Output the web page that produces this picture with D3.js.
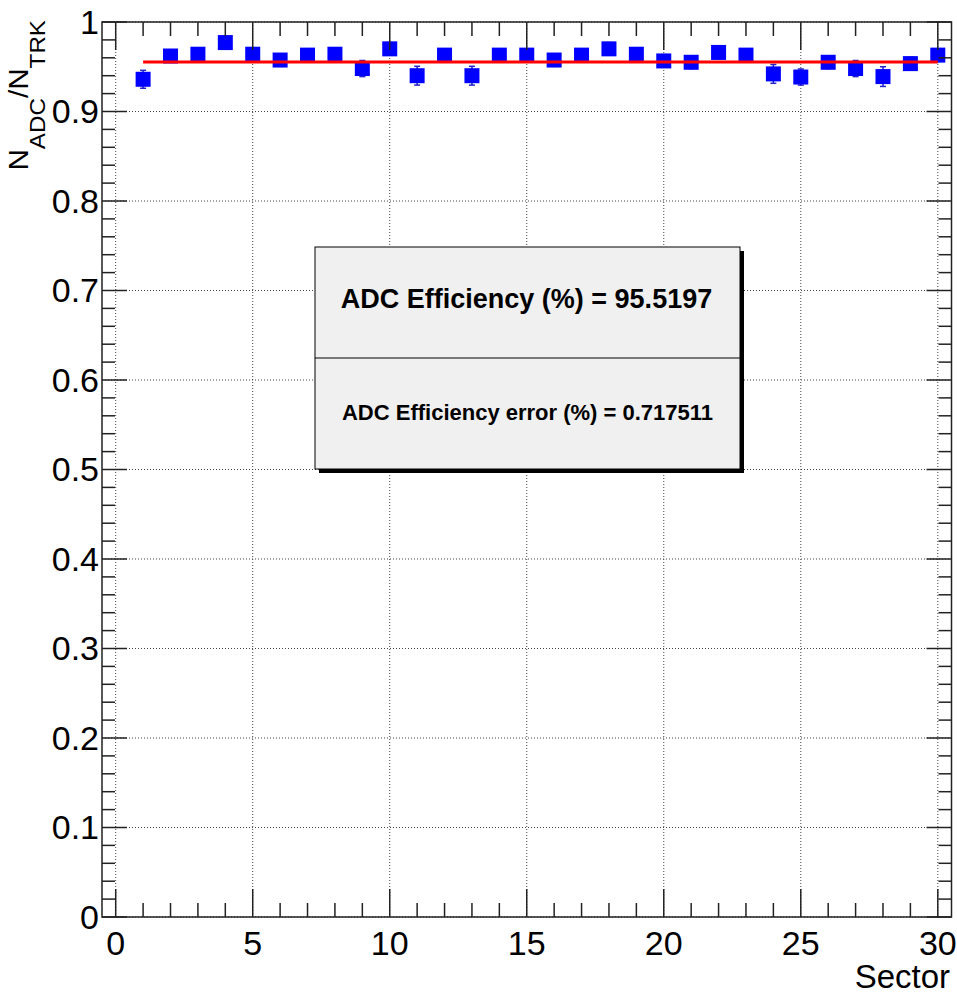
<!DOCTYPE html>
<html>
<head>
<meta charset="utf-8">
<script src="https://cdn.jsdelivr.net/npm/d3@7"></script>
<style>
  html, body { margin: 0; padding: 0; background: #fff; }
  svg { display: block; }
  text { font-family: "Liberation Sans", Arial, Helvetica, sans-serif; fill: #000; }
</style>
</head>
<body>
<script>
// ADC efficiency per sector (N_ADC / N_TRK)
const sectors = [1, 2, 3, 4, 5, 6, 7, 8, 9, 10, 11, 12, 13, 14, 15,
                 16, 17, 18, 19, 20, 21, 22, 23, 24, 25, 26, 27, 28, 29, 30];
const efficiency = [0.936, 0.962, 0.964, 0.977, 0.964, 0.9575, 0.963, 0.964, 0.948, 0.970,
                    0.940, 0.963, 0.940, 0.963, 0.963, 0.9575, 0.963, 0.970, 0.964, 0.9565,
                    0.955, 0.966, 0.963, 0.942, 0.9385, 0.955, 0.948, 0.939, 0.9535, 0.963];
const efficiencyErr = [0.010, 0.007, 0.007, 0.007, 0.007, 0.007, 0.007, 0.007, 0.009, 0.007,
                       0.0105, 0.007, 0.0105, 0.007, 0.007, 0.007, 0.007, 0.007, 0.007, 0.007,
                       0.007, 0.007, 0.007, 0.0105, 0.009, 0.007, 0.009, 0.011, 0.007, 0.007];
// constant fit over sectors 1..30
const fitRange = [1, 30];
const fitValue = 0.955197;
const fitText = ["ADC Efficiency (%) = 95.5197", "ADC Efficiency error (%) = 0.717511"];
const xTickLabels = [0, 5, 10, 15, 20, 25, 30];
const yTickLabels = [0, 0.1, 0.2, 0.3, 0.4, 0.5, 0.6, 0.7, 0.8, 0.9, 1];

const W = 957, H = 995;
const frame = { left: 102, right: 951.5, top: 22, bottom: 917 };

const svg = d3.select("body").append("svg").attr("width", W).attr("height", H);

const x = d3.scaleLinear().domain([-0.5, 30.5]).range([frame.left, frame.right]);
const y = d3.scaleLinear().domain([0, 1]).range([frame.bottom, frame.top]);

// dotted grid at major divisions
const grid = svg.append("g").attr("stroke", "#444").attr("stroke-width", 1)
  .attr("stroke-dasharray", "1,2");
grid.selectAll("line.gx").data(xTickLabels).join("line")
  .attr("x1", d => x(d)).attr("x2", d => x(d))
  .attr("y1", frame.top).attr("y2", frame.bottom);
grid.selectAll("line.gy").data(yTickLabels).join("line")
  .attr("x1", frame.left).attr("x2", frame.right)
  .attr("y1", d => y(d)).attr("y2", d => y(d));

// error bars and markers
const pts = sectors.map((s, i) => ({ s, v: efficiency[i], e: efficiencyErr[i] }));
const marks = svg.append("g");
marks.selectAll("line.err").data(pts).join("line")
  .attr("x1", d => x(d.s)).attr("x2", d => x(d.s))
  .attr("y1", d => y(d.v - d.e)).attr("y2", d => y(d.v + d.e))
  .attr("stroke", "#2323c8").attr("stroke-width", 1.5);
[-1, 1].forEach(sign => {
  marks.selectAll("line.cap" + sign).data(pts).join("line")
    .attr("x1", d => x(d.s) - 3).attr("x2", d => x(d.s) + 3)
    .attr("y1", d => y(d.v + sign * d.e)).attr("y2", d => y(d.v + sign * d.e))
    .attr("stroke", "#2323c8").attr("stroke-width", 1.5);
});
const ms = 15;
marks.selectAll("rect").data(pts).join("rect")
  .attr("x", d => x(d.s) - ms / 2).attr("y", d => y(d.v) - ms / 2)
  .attr("width", ms).attr("height", ms)
  .attr("fill", "#0000ff");

// fit line
svg.append("line")
  .attr("x1", x(fitRange[0])).attr("x2", x(fitRange[1]))
  .attr("y1", y(fitValue)).attr("y2", y(fitValue))
  .attr("stroke", "#ff0000").attr("stroke-width", 3);

// axes: ticks on all four sides, pointing inward
const ax = svg.append("g").attr("stroke", "#222").attr("stroke-width", 1.5);
const xMinor = d3.range(0, 31);
const yMinor = d3.range(0, 51).map(k => k / 50);
const xLen = d => (d % 5 === 0 ? 28 : 14);
const yLen = d => (Math.round(d * 50) % 5 === 0 ? 25 : 13);
ax.selectAll("line.xb").data(xMinor).join("line")
  .attr("x1", d => x(d)).attr("x2", d => x(d))
  .attr("y1", frame.bottom).attr("y2", d => frame.bottom - xLen(d));
ax.selectAll("line.xt").data(xMinor).join("line")
  .attr("x1", d => x(d)).attr("x2", d => x(d))
  .attr("y1", frame.top).attr("y2", d => frame.top + xLen(d));
ax.selectAll("line.yl").data(yMinor).join("line")
  .attr("x1", frame.left).attr("x2", d => frame.left + yLen(d))
  .attr("y1", d => y(d)).attr("y2", d => y(d));
ax.selectAll("line.yr").data(yMinor).join("line")
  .attr("x1", frame.right).attr("x2", d => frame.right - yLen(d))
  .attr("y1", d => y(d)).attr("y2", d => y(d));
svg.append("rect")
  .attr("x", frame.left).attr("y", frame.top)
  .attr("width", frame.right - frame.left).attr("height", frame.bottom - frame.top)
  .attr("fill", "none").attr("stroke", "#222").attr("stroke-width", 1.5);

// tick labels
svg.append("g").selectAll("text").data(xTickLabels).join("text")
  .attr("x", d => x(d)).attr("y", 955)
  .attr("text-anchor", "middle").attr("font-size", 34)
  .text(d => d);
svg.append("g").selectAll("text").data(yTickLabels).join("text")
  .attr("x", 99).attr("y", d => y(d)).attr("dy", "0.35em")
  .attr("text-anchor", "end").attr("font-size", 34)
  .text(d => d);

// axis titles
svg.append("text").attr("x", 950).attr("y", 988)
  .attr("text-anchor", "end").attr("font-size", 33).text("Sector");
const yt = svg.append("text")
  .attr("transform", "translate(28,20) rotate(-90) scale(1.1,1)")
  .attr("text-anchor", "end").attr("font-size", 27);
yt.append("tspan").text("N");
yt.append("tspan").attr("font-size", 22).attr("dy", 17).text("ADC");
yt.append("tspan").attr("dy", -17).text("/N");
yt.append("tspan").attr("font-size", 22).attr("dy", 17).text("TRK");

// fit result box
const box = { x0: 315, x1: 740, y0: 247, y1: 469, mid: 358 };
svg.append("rect")
  .attr("x", box.x0 + 4).attr("y", box.y0 + 4)
  .attr("width", box.x1 - box.x0).attr("height", box.y1 - box.y0)
  .attr("fill", "#000");
svg.append("rect")
  .attr("x", box.x0).attr("y", box.y0)
  .attr("width", box.x1 - box.x0).attr("height", box.y1 - box.y0)
  .attr("fill", "#f0f0f0").attr("stroke", "#000").attr("stroke-width", 1);
svg.append("line")
  .attr("x1", box.x0).attr("x2", box.x1).attr("y1", box.mid).attr("y2", box.mid)
  .attr("stroke", "#000").attr("stroke-width", 1);
const cx = (box.x0 + box.x1) / 2;
svg.append("text").attr("x", cx - 1).attr("y", 308)
  .attr("text-anchor", "middle").attr("font-weight", "bold").attr("font-size", 27)
  .text(fitText[0]);
svg.append("text").attr("x", cx).attr("y", 420)
  .attr("text-anchor", "middle").attr("font-weight", "bold").attr("font-size", 22)
  .text(fitText[1]);
</script>
</body>
</html>
